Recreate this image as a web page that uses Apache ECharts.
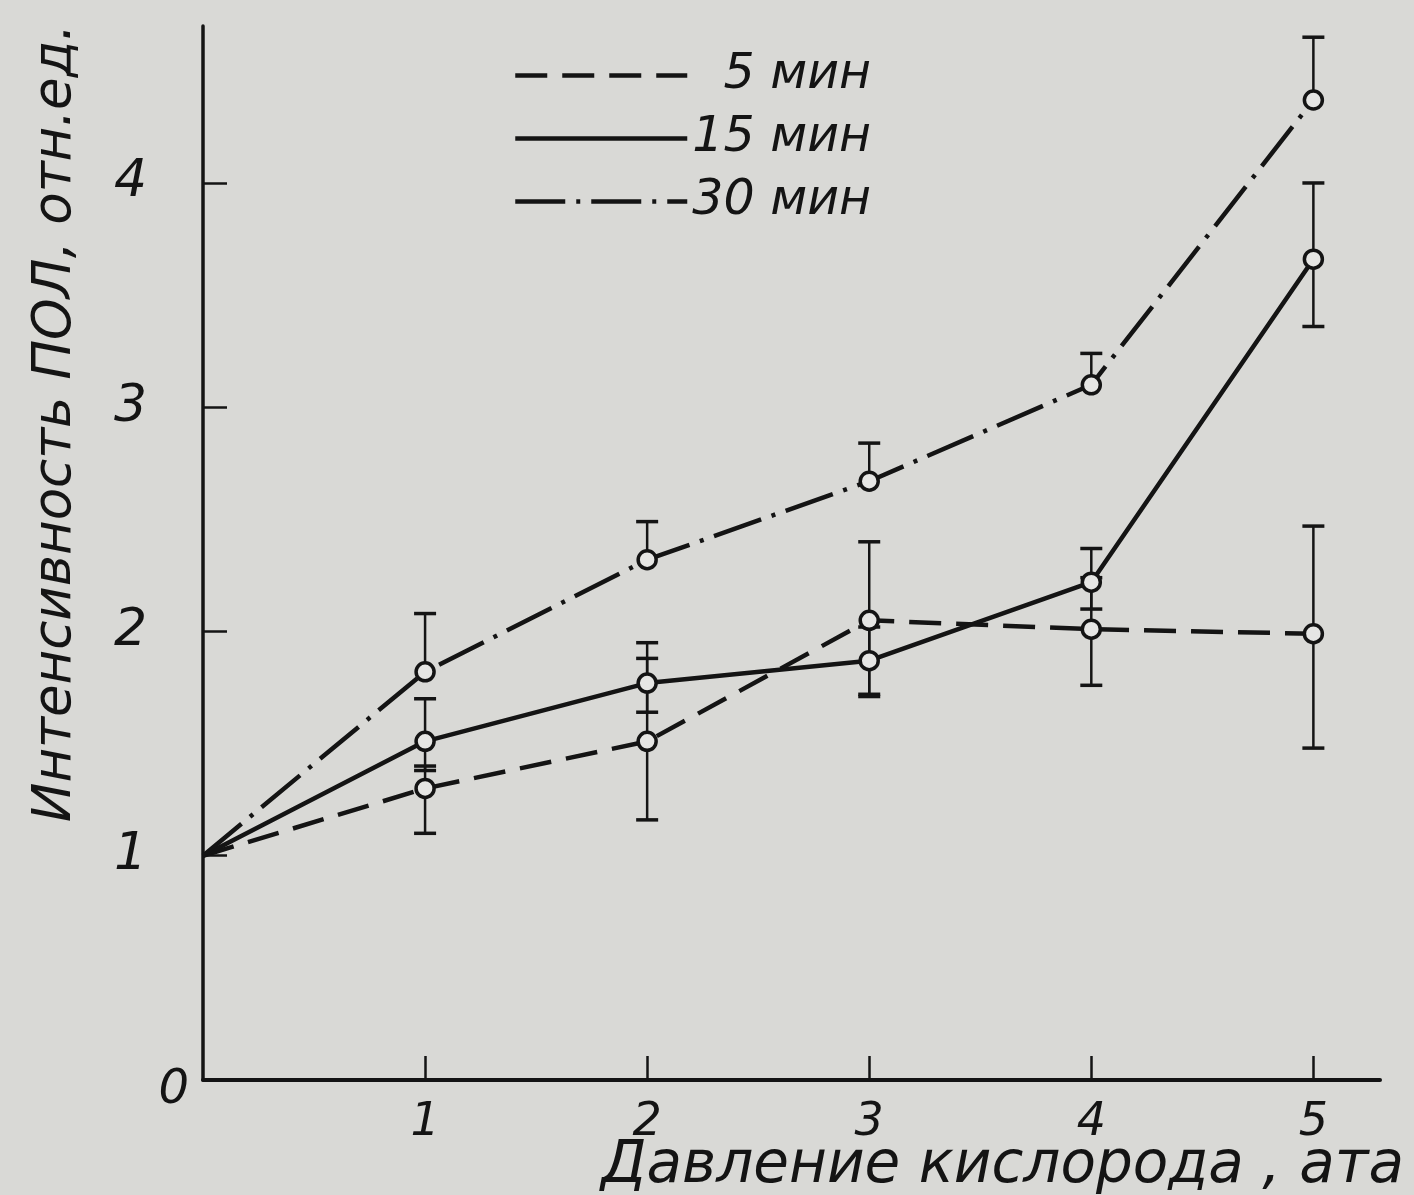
<!DOCTYPE html>
<html>
<head>
<meta charset="utf-8">
<script src="https://cdn.jsdelivr.net/npm/echarts@6/dist/echarts.min.js"></script>
<style>
  html, body { margin: 0; padding: 0; background: #d9d9d6; }
  #chart { width: 1414px; height: 1195px; }
</style>
</head>
<body>
<div id="chart"></div>
<script>
// ---- data ----
const pressure = [0, 1, 2, 3, 4, 5];          // Давление кислорода, ата
const v5   = [1.00, 1.30, 1.51, 2.05, 2.01, 1.99];
const v5Lo = [null, 1.10, 1.16, 1.72, 1.76, 1.48];
const v5Hi = [null, 1.40, 1.88, 2.40, 2.24, 2.47];
const v15   = [1.00, 1.51, 1.77, 1.87, 2.22, 3.66];
const v15Lo = [null, 1.38, 1.64, 1.71, 2.10, 3.36];
const v15Hi = [null, 1.70, 1.95, 2.02, 2.37, 4.00];
const v30   = [1.00, 1.82, 2.32, 2.67, 3.10, 4.37];
const v30Lo = [null, null, null, null, null, null];
const v30Hi = [null, 2.08, 2.49, 2.84, 3.24, 4.65];
const seriesNames = ['5 мин', '15 мин', '30 мин'];
const xTicks = [1, 2, 3, 4, 5];
const yTicks = [1, 2, 3, 4];
const yLabels = [0, 1, 2, 3, 4];
const yTitle = 'Интенсивность ПОЛ, отн.ед.';
const xTitle = 'Давление кислорода , ата';

const INK = '#141414';
const BG = '#d9d9d6';
const FONT = 'DejaVu Sans';

function pairs(vals) { return pressure.map((x, i) => [x, vals[i]]); }
function markers(vals) { return pressure.slice(1).map((x, i) => [x, vals[i + 1]]); }
function errData(vals, lo, hi) {
  const out = [];
  pressure.forEach((x, i) => {
    if (lo[i] != null) out.push([x, vals[i], lo[i]]);
    if (hi[i] != null) out.push([x, vals[i], hi[i]]);
  });
  return out;
}
function renderErr(params, api) {
  const p0 = api.coord([api.value(0), api.value(1)]);
  const p1 = api.coord([api.value(0), api.value(2)]);
  return {
    type: 'group',
    children: [
      { type: 'line', shape: { x1: p0[0], y1: p0[1], x2: p1[0], y2: p1[1] },
        style: { stroke: INK, lineWidth: 2.5 } },
      { type: 'line', shape: { x1: p1[0] - 11, y1: p1[1], x2: p1[0] + 11, y2: p1[1] },
        style: { stroke: INK, lineWidth: 3.5 } }
    ]
  };
}

const dashTypes = [[32, 15], 'solid', [50, 11, 4, 11]];
const valsList = [v5, v15, v30];
const loList = [v5Lo, v15Lo, v30Lo];
const hiList = [v5Hi, v15Hi, v30Hi];

const series = [];
valsList.forEach((vals, k) => {
  series.push({
    name: seriesNames[k], type: 'line', data: pairs(vals), symbol: 'none', z: 2,
    lineStyle: { color: INK, width: 4.5, type: dashTypes[k] },
    itemStyle: { color: INK }
  });
});
valsList.forEach((vals, k) => {
  series.push({
    type: 'custom', renderItem: renderErr, data: errData(vals, loList[k], hiList[k]), z: 3,
    silent: true
  });
});
valsList.forEach((vals, k) => {
  series.push({
    type: 'scatter', data: markers(vals), symbol: 'circle', symbolSize: 18, z: 4,
    itemStyle: { color: '#e6e6e4', opacity: 1, borderColor: INK, borderWidth: 3.5 }
  });
});

const chart = echarts.init(document.getElementById('chart'));
chart.setOption({
  backgroundColor: BG,
  animation: false,
  textStyle: { fontFamily: FONT, fontStyle: 'italic', color: INK },
  grid: { left: 203, right: 34, top: 26, bottom: 115, containLabel: false, outerBoundsMode: 'none' },
  legend: {
    data: seriesNames, orient: 'vertical', left: 508, top: 46,
    itemWidth: 172, itemHeight: 14, itemGap: 14,
    itemStyle: { opacity: 0 },
    lineStyle: { width: 4.5 },
    formatter: n => (n === '5 мин' ? '\u2007' + n : n),
    textStyle: { fontFamily: FONT, fontStyle: 'italic', fontSize: 49, color: INK, lineHeight: 48 }
  },
  xAxis: {
    type: 'value', min: 0, max: 5.3, interval: 1,
    splitLine: { show: false },
    axisLine: { lineStyle: { color: INK, width: 4 } },
    axisTick: { inside: true, length: 24, customValues: xTicks, lineStyle: { color: INK, width: 2.5 } },
    axisLabel: { customValues: xTicks, margin: 20, fontSize: 46, fontStyle: 'italic', fontFamily: FONT, color: INK }
  },
  yAxis: {
    type: 'value', min: 0, max: 4.7, interval: 1,
    splitLine: { show: false },
    axisLine: { lineStyle: { color: INK, width: 3.5 } },
    axisTick: { inside: true, length: 24, customValues: yTicks, lineStyle: { color: INK, width: 2.5 } },
    axisLabel: {
      customValues: yLabels, margin: 14,
      formatter: v => (v === 0 ? '{z|0}' : '{n|' + v + '}'),
      rich: {
        z: { fontSize: 48, fontStyle: 'italic', fontFamily: FONT, color: INK, padding: [22, 0, 0, 0] },
        n: { fontSize: 52, fontStyle: 'italic', fontFamily: FONT, color: INK, padding: [0, 42, 0, 0] }
      }
    }
  },
  graphic: [
    { type: 'text', x: 56, y: 423, rotation: Math.PI / 2,
      style: { text: yTitle, fill: INK, font: 'italic 53px "DejaVu Sans"', align: 'center', verticalAlign: 'middle' } },
    { type: 'text', x: 1404, y: 1167,
      style: { text: xTitle, fill: INK, font: 'italic 58px "DejaVu Sans"', align: 'right', verticalAlign: 'middle' } }
  ],
  series: series
});
</script>
</body>
</html>
